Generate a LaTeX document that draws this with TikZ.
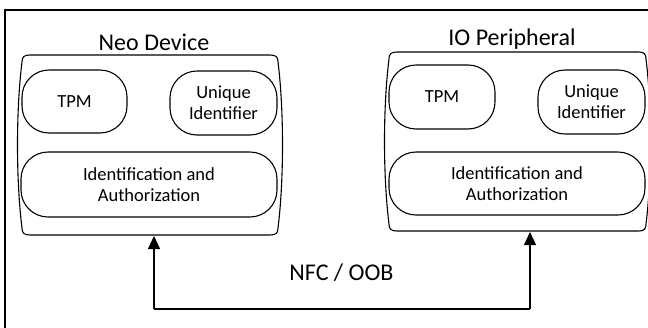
\documentclass[tikz,border=0pt]{standalone}
\usepackage{fontspec}
\setmainfont{Carlito}
\usetikzlibrary{arrows.meta}
\tikzset{
  part/.style={draw, line width=1.1pt, rounded corners=27pt, align=center, inner sep=0pt,
    font=\fontsize{18.5}{21}\selectfont},
  title/.style={anchor=base, font=\fontsize{24}{28}\selectfont, inner sep=0pt},
  devline/.style={line width=1.1pt},
  link/.style={line width=1.2pt, -{Triangle[length=13pt,width=12pt]}},
}
\begin{document}
\begin{tikzpicture}[x=1pt,y=-1pt]
\useasboundingbox (0,0) rectangle (648,327);
% outer frame
\draw[line width=2pt] (5,345) -- (5,10) -- (665,10);
% titles
\node[title] (neot) at (154,50) {Neo Device};
\node[title] (iot) at (512,45) {IO Peripheral};
% device outlines
\draw[devline] (30,55) -- (270,55) .. controls (276,55) and (278,57) .. (278,62)
  .. controls (284,110) and (284,180) .. (278,228) .. controls (278,233) and (276,235) .. (270,235)
  -- (30,235) .. controls (24,235) and (22,233) .. (22,228)
  .. controls (16,180) and (16,110) .. (22,62) .. controls (22,57) and (24,55) .. (30,55) -- cycle;
\draw[devline] (397,52) -- (639,52) .. controls (644,52) and (646,54) .. (646,59)
  .. controls (652,107) and (652,176) .. (646,224) .. controls (646,229) and (644,231) .. (639,231)
  -- (397,231) .. controls (391,231) and (389,229) .. (389,224)
  .. controls (383,176) and (383,107) .. (389,59) .. controls (389,54) and (391,52) .. (397,52) -- cycle;
\coordinate (neob) at (154,236);
\coordinate (iob) at (530,232);
% Neo parts
\node[part, minimum width=105pt, minimum height=63pt] (ntpm) at (74.5,101.5) {TPM};
\node[part, minimum width=107pt, minimum height=64pt] (nuid) at (223.5,103) {Unique\\Identifier};
\node[part, minimum width=256pt, minimum height=65pt] (nia) at (149,184.5) {Identification and\\Authorization};
% IO parts
\node[part, minimum width=106pt, minimum height=64pt] (itpm) at (442,97) {TPM};
\node[part, minimum width=107pt, minimum height=64pt] (iuid) at (591.5,102) {Unique\\Identifier};
\node[part, minimum width=256pt, minimum height=63pt] (iia) at (517,183.5) {Identification and\\Authorization};
% link
\coordinate (c1) at (154,309);
\coordinate (c2) at (530,309);
\draw[link] (c1) -- (neob);
\draw[link] (c2) -- (iob);
\draw[line width=1.2pt] (c1) -- (c2);
\node[title] (nfc) at (341.5,280) {NFC / OOB};
\end{tikzpicture}
\end{document}
